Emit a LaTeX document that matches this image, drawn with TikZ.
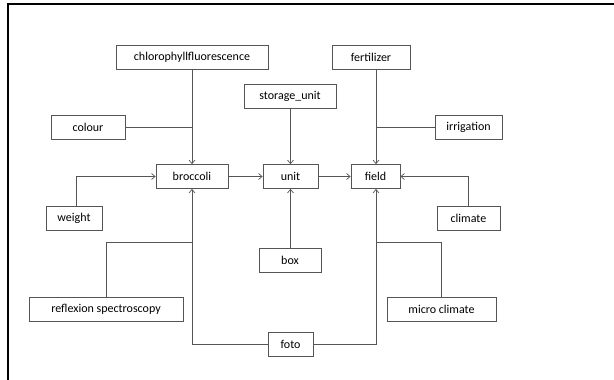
\documentclass[tikz,border=0pt]{standalone}
\usepackage{fontspec}
\setmainfont{Carlito}
\usetikzlibrary{arrows.meta,positioning,calc}
\definecolor{lineGray}{HTML}{555555}

\begin{document}
\begin{tikzpicture}[x=1pt,y=-1pt,
  box/.style={draw=lineGray, line width=0.8pt, minimum height=24pt, inner sep=0pt, font=\fontsize{12}{14}\selectfont},
  link/.style={draw=lineGray, line width=0.7pt},
  arr/.style={link, -{Straight Barb[length=3.5pt,width=6pt]}}]
\useasboundingbox (0,0) rectangle (614,380);
% frame
\draw[line width=2pt] (8,380) -- (8,3.7) -- (614,3.7);
% top row
\node[box, minimum width=152pt] (chl) at (192,57.5) {chlorophyllfluorescence};
\node[box, minimum width=78pt] (fert) at (371,57.5) {fertilizer};
\node[box, minimum width=92pt] (store) at (290,96) {storage\_unit};
\node[box, minimum width=74pt] (colour) at (88,127) {colour};
\node[box, minimum width=67pt] (irr) at (468.5,127) {irrigation};
% middle row
\node[box, minimum width=72pt] (broc) at (192,176.5) {broccoli};
\node[box, minimum width=55pt] (unit) at (290.5,176.5) {unit};
\node[box, minimum width=49pt] (field) at (375.5,176.5) {field};
\node[box, minimum width=56pt] (weight) at (74,218) {weight};
\node[box, minimum width=63pt] (climate) at (468.5,218) {climate};
% bottom row
\node[box, minimum width=62pt] (boxn) at (290,260.5) {box};
\node[box, minimum width=154pt] (refl) at (106,309) {reflexion spectroscopy};
\node[box, minimum width=109pt] (micro) at (441.5,309) {micro climate};
\node[box, minimum width=45pt] (foto) at (290.5,344.5) {foto};
\coordinate (jl) at (192,242);
\coordinate (jr) at (376,242);
\coordinate (fx) at (376,0);
% connectors
\draw[arr] (chl.south) -- (broc.north);
\draw[link] (colour.east) -- (colour.east -| broc.north);
\draw[arr] (fert.south -| fx) -- (field.north -| fx);
\draw[link] (irr.west) -- (irr.west -| fx);
\draw[arr] (store.south -| unit.north) -- (unit.north);
\draw[arr] (broc) -- (unit);
\draw[arr] (unit) -- (field);
\draw[arr] ($(weight.north)+(2,0)$) |- (broc.west);
\draw[arr] (climate.north) |- (field.east);
\draw[arr] (boxn.north -| unit.south) -- (unit.south);
\draw[link] (refl.north) |- (jl);
\draw[link] (micro.north) |- (jr);
\draw[arr] (foto.west) -| (broc.south);
\draw[arr] (foto.east) -| (field.south -| fx);
\end{tikzpicture}
\end{document}
